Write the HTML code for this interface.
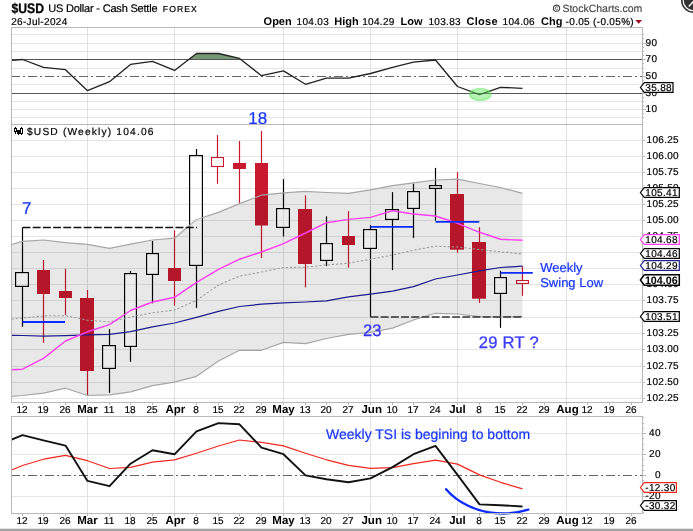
<!DOCTYPE html>
<html><head><meta charset="utf-8"><title>$USD</title>
<style>html,body{margin:0;padding:0;background:#fff;overflow:hidden}svg{display:block;will-change:transform;-webkit-font-smoothing:antialiased}text{font-family:"Liberation Sans",sans-serif;text-rendering:geometricPrecision}.s{stroke:#000;stroke-width:0.2px}.b{stroke:#1a38ff;stroke-width:0.22px}</style></head><body>
<svg width="693" height="531" viewBox="0 0 693 531">
<rect x="0" y="0" width="693" height="531" fill="#fff"/>
<g shape-rendering="crispEdges" stroke-width="1">
<line x1="11" x2="642" y1="117.5" y2="117.5" stroke="#e5e5e5"/>
<line x1="11" x2="642" y1="109.5" y2="109.5" stroke="#e5e5e5"/>
<line x1="11" x2="642" y1="101.5" y2="101.5" stroke="#e5e5e5"/>
<line x1="11" x2="642" y1="84.5" y2="84.5" stroke="#e5e5e5"/>
<line x1="11" x2="642" y1="68.5" y2="68.5" stroke="#e5e5e5"/>
<line x1="11" x2="642" y1="51.5" y2="51.5" stroke="#e5e5e5"/>
<line x1="11" x2="642" y1="43.5" y2="43.5" stroke="#e5e5e5"/>
<line x1="11" x2="642" y1="34.5" y2="34.5" stroke="#e5e5e5"/>
<line x1="11" x2="642" y1="398.5" y2="398.5" stroke="#e5e5e5"/>
<line x1="11" x2="642" y1="382.5" y2="382.5" stroke="#e5e5e5"/>
<line x1="11" x2="642" y1="366.5" y2="366.5" stroke="#e5e5e5"/>
<line x1="11" x2="642" y1="349.5" y2="349.5" stroke="#e5e5e5"/>
<line x1="11" x2="642" y1="333.5" y2="333.5" stroke="#e5e5e5"/>
<line x1="11" x2="642" y1="317.5" y2="317.5" stroke="#e5e5e5"/>
<line x1="11" x2="642" y1="300.5" y2="300.5" stroke="#e5e5e5"/>
<line x1="11" x2="642" y1="284.5" y2="284.5" stroke="#e5e5e5"/>
<line x1="11" x2="642" y1="268.5" y2="268.5" stroke="#e5e5e5"/>
<line x1="11" x2="642" y1="252.5" y2="252.5" stroke="#e5e5e5"/>
<line x1="11" x2="642" y1="236.5" y2="236.5" stroke="#e5e5e5"/>
<line x1="11" x2="642" y1="220.5" y2="220.5" stroke="#e5e5e5"/>
<line x1="11" x2="642" y1="204.5" y2="204.5" stroke="#e5e5e5"/>
<line x1="11" x2="642" y1="188.5" y2="188.5" stroke="#e5e5e5"/>
<line x1="11" x2="642" y1="172.5" y2="172.5" stroke="#e5e5e5"/>
<line x1="11" x2="642" y1="156.5" y2="156.5" stroke="#e5e5e5"/>
<line x1="11" x2="642" y1="140.5" y2="140.5" stroke="#e5e5e5"/>
<line x1="11" x2="642" y1="433.5" y2="433.5" stroke="#e5e5e5"/>
<line x1="11" x2="642" y1="454.5" y2="454.5" stroke="#e5e5e5"/>
<line x1="11" x2="642" y1="496.5" y2="496.5" stroke="#e5e5e5"/>
<line x1="87.5" x2="87.5" y1="27" y2="402" stroke="#e1e1e1"/>
<line x1="87.5" x2="87.5" y1="416" y2="513" stroke="#e1e1e1"/>
<line x1="174.5" x2="174.5" y1="27" y2="402" stroke="#e1e1e1"/>
<line x1="174.5" x2="174.5" y1="416" y2="513" stroke="#e1e1e1"/>
<line x1="283.5" x2="283.5" y1="27" y2="402" stroke="#e1e1e1"/>
<line x1="283.5" x2="283.5" y1="416" y2="513" stroke="#e1e1e1"/>
<line x1="370.5" x2="370.5" y1="27" y2="402" stroke="#e1e1e1"/>
<line x1="370.5" x2="370.5" y1="416" y2="513" stroke="#e1e1e1"/>
<line x1="457.5" x2="457.5" y1="27" y2="402" stroke="#e1e1e1"/>
<line x1="457.5" x2="457.5" y1="416" y2="513" stroke="#e1e1e1"/>
<line x1="566.5" x2="566.5" y1="27" y2="402" stroke="#e1e1e1"/>
<line x1="566.5" x2="566.5" y1="416" y2="513" stroke="#e1e1e1"/>
</g>
<clipPath id="c70"><rect x="11" y="27" width="631" height="32.5"/></clipPath>
<polygon points="11.5,60.3 22.5,59.5 43.5,67.4 65.5,69.7 87.5,90.7 109.5,81.7 130.5,64.4 152.5,61.4 174.5,70.4 196.5,53.5 218.5,53.5 239.5,58.4 261.5,75.7 283.5,70.9 305.5,84.3 326.5,78.2 348.5,78.2 370.5,73.5 392.5,67.4 413.5,62.2 435.5,60.0 457.5,86.5 479.5,94.7 500.5,87.3 522.5,88.3 522.5,59.5 11.5,59.5" fill="#759775" clip-path="url(#c70)"/>
<g shape-rendering="crispEdges">
<line x1="11" x2="642" y1="59.5" y2="59.5" stroke="#555" stroke-width="1"/>
<line x1="11" x2="642" y1="93.5" y2="93.5" stroke="#555" stroke-width="1"/>
<line x1="11" x2="642" y1="76.5" y2="76.5" stroke="#666" stroke-width="1" stroke-dasharray="9 3 2 3"/>
</g>
<polyline fill="none" stroke="#222" stroke-width="1.3" stroke-linejoin="round" points="11.5,60.3 22.5,59.5 43.5,67.4 65.5,69.7 87.5,90.7 109.5,81.7 130.5,64.4 152.5,61.4 174.5,70.4 196.5,53.5 218.5,53.5 239.5,58.4 261.5,75.7 283.5,70.9 305.5,84.3 326.5,78.2 348.5,78.2 370.5,73.5 392.5,67.4 413.5,62.2 435.5,60.0 457.5,86.5 479.5,94.7 500.5,87.3 522.5,88.3"/>
<ellipse cx="480.3" cy="94.4" rx="10.7" ry="6.0" fill="#5ae45a" fill-opacity="0.45" stroke="#5ae45a" stroke-opacity="0.5" stroke-width="1.4"/>
<g>
<line x1="22.5" x2="22.5" y1="227.5" y2="272.5" stroke="#000" stroke-width="1.2"/>
<line x1="22.5" x2="22.5" y1="286.5" y2="326.8" stroke="#000" stroke-width="1.2"/>
<rect x="15.6" y="272.6" width="12.8" height="13.8" fill="none" stroke="#000" stroke-width="1.2"/>
<line x1="43.5" x2="43.5" y1="260.0" y2="342.8" stroke="#c8192e" stroke-width="1.2"/>
<rect x="37" y="270" width="13" height="24.0" fill="#c8192e"/>
<line x1="65.5" x2="65.5" y1="268.8" y2="314.9" stroke="#c8192e" stroke-width="1.2"/>
<rect x="59" y="291" width="13" height="7.0" fill="#c8192e"/>
<line x1="87.5" x2="87.5" y1="289.9" y2="395.4" stroke="#c8192e" stroke-width="1.2"/>
<rect x="80" y="298" width="14" height="73.0" fill="#c8192e"/>
<line x1="109.5" x2="109.5" y1="329.0" y2="345.5" stroke="#000" stroke-width="1.2"/>
<line x1="109.5" x2="109.5" y1="368.5" y2="392.8" stroke="#000" stroke-width="1.2"/>
<rect x="102.6" y="345.6" width="12.8" height="22.8" fill="none" stroke="#000" stroke-width="1.2"/>
<line x1="130.5" x2="130.5" y1="270.9" y2="273.5" stroke="#000" stroke-width="1.2"/>
<line x1="130.5" x2="130.5" y1="346.5" y2="361.8" stroke="#000" stroke-width="1.2"/>
<rect x="124.6" y="273.6" width="11.8" height="72.8" fill="none" stroke="#000" stroke-width="1.2"/>
<line x1="152.5" x2="152.5" y1="241.0" y2="253.5" stroke="#000" stroke-width="1.2"/>
<line x1="152.5" x2="152.5" y1="274.5" y2="303.3" stroke="#000" stroke-width="1.2"/>
<rect x="146.6" y="253.6" width="11.8" height="20.8" fill="none" stroke="#000" stroke-width="1.2"/>
<line x1="174.5" x2="174.5" y1="230.3" y2="305.5" stroke="#c8192e" stroke-width="1.2"/>
<rect x="168" y="268" width="13" height="13.0" fill="#c8192e"/>
<line x1="196.5" x2="196.5" y1="149.0" y2="155.5" stroke="#000" stroke-width="1.2"/>
<line x1="196.5" x2="196.5" y1="265.5" y2="308.0" stroke="#000" stroke-width="1.2"/>
<rect x="189.6" y="155.6" width="12.8" height="109.8" fill="none" stroke="#000" stroke-width="1.2"/>
<line x1="217.5" x2="217.5" y1="135.1" y2="157.5" stroke="#c8192e" stroke-width="1.2"/>
<line x1="217.5" x2="217.5" y1="166.5" y2="183.8" stroke="#c8192e" stroke-width="1.2"/>
<rect x="211.6" y="157.6" width="11.8" height="8.8" fill="none" stroke="#c8192e" stroke-width="1.2"/>
<line x1="239.5" x2="239.5" y1="141.0" y2="202.9" stroke="#c8192e" stroke-width="1.2"/>
<rect x="233" y="163" width="13" height="6.0" fill="#c8192e"/>
<line x1="261.5" x2="261.5" y1="130.9" y2="258.0" stroke="#c8192e" stroke-width="1.2"/>
<rect x="255" y="163" width="13" height="62.5" fill="#c8192e"/>
<line x1="283.5" x2="283.5" y1="179.1" y2="208.5" stroke="#000" stroke-width="1.2"/>
<line x1="283.5" x2="283.5" y1="227.5" y2="236.5" stroke="#000" stroke-width="1.2"/>
<rect x="276.6" y="208.6" width="12.8" height="18.8" fill="none" stroke="#000" stroke-width="1.2"/>
<line x1="305.5" x2="305.5" y1="195.4" y2="287.4" stroke="#c8192e" stroke-width="1.2"/>
<rect x="298" y="209" width="14" height="55.0" fill="#c8192e"/>
<line x1="326.5" x2="326.5" y1="216.4" y2="243.5" stroke="#000" stroke-width="1.2"/>
<line x1="326.5" x2="326.5" y1="260.5" y2="265.9" stroke="#000" stroke-width="1.2"/>
<rect x="320.6" y="243.6" width="11.8" height="16.8" fill="none" stroke="#000" stroke-width="1.2"/>
<line x1="348.5" x2="348.5" y1="211.2" y2="267.7" stroke="#c8192e" stroke-width="1.2"/>
<rect x="342" y="236" width="13" height="9.0" fill="#c8192e"/>
<line x1="370.5" x2="370.5" y1="225.1" y2="229.5" stroke="#000" stroke-width="1.2"/>
<line x1="370.5" x2="370.5" y1="248.5" y2="317.0" stroke="#000" stroke-width="1.2"/>
<rect x="363.6" y="229.6" width="12.8" height="18.8" fill="none" stroke="#000" stroke-width="1.2"/>
<line x1="392.5" x2="392.5" y1="192.1" y2="209.5" stroke="#000" stroke-width="1.2"/>
<line x1="392.5" x2="392.5" y1="219.5" y2="270.1" stroke="#000" stroke-width="1.2"/>
<rect x="385.6" y="209.6" width="12.8" height="9.8" fill="none" stroke="#000" stroke-width="1.2"/>
<line x1="413.5" x2="413.5" y1="183.7" y2="191.5" stroke="#000" stroke-width="1.2"/>
<line x1="413.5" x2="413.5" y1="208.5" y2="238.0" stroke="#000" stroke-width="1.2"/>
<rect x="407.6" y="191.6" width="11.8" height="16.8" fill="none" stroke="#000" stroke-width="1.2"/>
<line x1="435.5" x2="435.5" y1="167.9" y2="185.5" stroke="#000" stroke-width="1.2"/>
<line x1="435.5" x2="435.5" y1="188.5" y2="220.6" stroke="#000" stroke-width="1.2"/>
<rect x="429.6" y="185.6" width="11.8" height="2.8" fill="none" stroke="#000" stroke-width="1.2"/>
<line x1="457.5" x2="457.5" y1="172.2" y2="252.8" stroke="#c8192e" stroke-width="1.2"/>
<rect x="450" y="194" width="14" height="55.7" fill="#c8192e"/>
<line x1="479.5" x2="479.5" y1="227.2" y2="302.8" stroke="#c8192e" stroke-width="1.2"/>
<rect x="472" y="242" width="14" height="56.7" fill="#c8192e"/>
<line x1="500.5" x2="500.5" y1="270.8" y2="277.5" stroke="#000" stroke-width="1.2"/>
<line x1="500.5" x2="500.5" y1="293.5" y2="327.8" stroke="#000" stroke-width="1.2"/>
<rect x="494.6" y="277.6" width="11.8" height="15.8" fill="none" stroke="#000" stroke-width="1.2"/>
<line x1="522.5" x2="522.5" y1="266.3" y2="280.5" stroke="#c8192e" stroke-width="1.2"/>
<line x1="522.5" x2="522.5" y1="283.5" y2="295.8" stroke="#c8192e" stroke-width="1.2"/>
<rect x="516.6" y="280.6" width="11.8" height="2.8" fill="none" stroke="#c8192e" stroke-width="1.2"/>
</g>
<polygon points="11.5,244.5 22.5,241.3 43.5,240.0 65.5,242.6 87.5,244.4 109.5,248.4 130.5,244.2 152.5,240.0 174.5,238.2 196.5,219.5 218.5,212.4 239.5,203.6 261.5,195.2 283.5,192.8 305.5,191.3 326.5,192.5 348.5,193.4 370.5,189.9 392.5,185.6 413.5,182.8 435.5,180.0 457.5,179.1 479.5,183.5 500.5,187.5 522.5,193.3 522.5,316.4 500.5,317.0 479.5,316.7 457.5,314.0 435.5,313.3 413.5,320.0 392.5,328.1 370.5,332.3 348.5,334.3 326.5,338.5 305.5,343.6 283.5,342.4 261.5,350.3 239.5,350.3 218.5,361.0 196.5,376.3 174.5,382.2 152.5,385.6 130.5,391.8 109.5,394.8 87.5,395.5 65.5,388.2 43.5,393.2 22.5,395.5 11.5,396.3" fill="#000" fill-opacity="0.09"/>
<polyline fill="none" stroke="#a6a6a6" stroke-width="1.2" stroke-linejoin="round" points="11.5,244.5 22.5,241.3 43.5,240.0 65.5,242.6 87.5,244.4 109.5,248.4 130.5,244.2 152.5,240.0 174.5,238.2 196.5,219.5 218.5,212.4 239.5,203.6 261.5,195.2 283.5,192.8 305.5,191.3 326.5,192.5 348.5,193.4 370.5,189.9 392.5,185.6 413.5,182.8 435.5,180.0 457.5,179.1 479.5,183.5 500.5,187.5 522.5,193.3"/>
<polyline fill="none" stroke="#a6a6a6" stroke-width="1.2" stroke-linejoin="round" points="11.5,396.3 22.5,395.5 43.5,393.2 65.5,388.2 87.5,395.5 109.5,394.8 130.5,391.8 152.5,385.6 174.5,382.2 196.5,376.3 218.5,361.0 239.5,350.3 261.5,350.3 283.5,342.4 305.5,343.6 326.5,338.5 348.5,334.3 370.5,332.3 392.5,328.1 413.5,320.0 435.5,313.3 457.5,314.0 479.5,316.7 500.5,317.0 522.5,316.4"/>
<rect x="16.2" y="273.2" width="11.6" height="12.6" fill="#fff" fill-opacity="0.2"/>
<rect x="103.2" y="346.2" width="11.6" height="21.6" fill="#fff" fill-opacity="0.2"/>
<rect x="125.2" y="274.2" width="10.6" height="71.6" fill="#fff" fill-opacity="0.2"/>
<rect x="147.2" y="254.2" width="10.6" height="19.6" fill="#fff" fill-opacity="0.2"/>
<rect x="190.2" y="156.2" width="11.6" height="108.6" fill="#fff" fill-opacity="0.2"/>
<rect x="212.2" y="158.2" width="10.6" height="7.6" fill="#fff" fill-opacity="0.8"/>
<rect x="277.2" y="209.2" width="11.6" height="17.6" fill="#fff" fill-opacity="0.2"/>
<rect x="321.2" y="244.2" width="10.6" height="15.6" fill="#fff" fill-opacity="0.2"/>
<rect x="364.2" y="230.2" width="11.6" height="17.6" fill="#fff" fill-opacity="0.2"/>
<rect x="386.2" y="210.2" width="11.6" height="8.6" fill="#fff" fill-opacity="0.2"/>
<rect x="408.2" y="192.2" width="10.6" height="15.6" fill="#fff" fill-opacity="0.2"/>
<rect x="430.2" y="186.2" width="10.6" height="1.6" fill="#fff" fill-opacity="0.2"/>
<rect x="495.2" y="278.2" width="10.6" height="14.6" fill="#fff" fill-opacity="0.2"/>
<rect x="517.2" y="281.2" width="10.6" height="1.6" fill="#fff" fill-opacity="0.8"/>
<polyline fill="none" stroke-linejoin="round" stroke="#999" stroke-width="1.05" stroke-dasharray="2.2 2" points="11.5,319.2 22.5,318.0 43.5,315.9 65.5,315.6 87.5,320.2 109.5,321.9 130.5,316.9 152.5,312.8 174.5,310.0 196.5,300.4 218.5,285.0 239.5,276.1 261.5,272.0 283.5,267.5 305.5,267.2 326.5,265.0 348.5,263.2 370.5,259.3 392.5,255.0 413.5,250.2 435.5,246.2 457.5,247.0 479.5,249.6 500.5,251.8 522.5,254.0"/>
<polyline fill="none" stroke-linejoin="round" stroke="#1c1c8c" stroke-width="1.25" points="11.5,335.4 22.5,335.5 43.5,336.2 65.5,335.6 87.5,334.8 109.5,334.3 130.5,331.6 152.5,326.8 174.5,323.0 196.5,317.3 218.5,311.3 239.5,306.5 261.5,304.2 283.5,302.8 305.5,302.0 326.5,300.9 348.5,296.9 370.5,294.2 392.5,291.2 413.5,286.6 435.5,279.0 457.5,275.0 479.5,270.8 500.5,267.5 522.5,266.2"/>
<polyline fill="none" stroke-linejoin="round" stroke="#ff40f0" stroke-width="1.45" points="11.5,369.8 22.5,369.2 43.5,358.4 65.5,341.0 87.5,331.8 109.5,324.6 130.5,310.5 152.5,302.0 174.5,297.3 196.5,282.4 218.5,269.4 239.5,259.2 261.5,252.0 283.5,243.6 305.5,233.0 326.5,222.7 348.5,219.4 370.5,217.4 392.5,210.7 413.5,214.0 435.5,216.0 457.5,223.3 479.5,232.3 500.5,239.3 522.5,240.3"/>
<line x1="22.5" x2="197" y1="227.5" y2="227.5" stroke="#111" stroke-width="1.6" stroke-dasharray="7.9 2.3"/>
<line x1="370.5" x2="522.5" y1="317.0" y2="317.0" stroke="#333" stroke-width="1.4" stroke-dasharray="7.9 2.3"/>
<line x1="22.5" x2="65" y1="322" y2="322" stroke="#0c2cff" stroke-width="2"/>
<line x1="370.5" x2="413.3" y1="226.9" y2="226.9" stroke="#0c2cff" stroke-width="1.9"/>
<line x1="435.5" x2="479.3" y1="221.9" y2="221.9" stroke="#0c2cff" stroke-width="1.9"/>
<line x1="500.5" x2="532.8" y1="272.9" y2="272.9" stroke="#0c2cff" stroke-width="1.9"/>
<text class="b" x="21.9" y="214" font-size="17" fill="#1a38ff">7</text>
<text class="b" x="248.3" y="124" font-size="17" fill="#1a38ff">18</text>
<text x="363.0" y="335.8" font-size="16.6" fill="#3434f4" stroke="#3434f4" stroke-width="0.3">23</text>
<text x="478.8" y="347.6" font-size="16.6" letter-spacing="0.25" fill="#3a3aff" stroke="#3a3aff" stroke-width="0.3">29 RT ?</text>
<text class="b" x="540.2" y="272" font-size="13" fill="#1a38ff">Weekly</text>
<text class="b" x="540.2" y="287" font-size="13" fill="#1a38ff">Swing Low</text>
<line x1="11" x2="642" y1="475.5" y2="475.5" stroke="#666" stroke-width="1" stroke-dasharray="9 3 2 3" shape-rendering="crispEdges"/>
<polyline fill="none" stroke-linejoin="round" stroke="#f0281e" stroke-width="1.2" points="11.5,470.0 22.5,465.5 43.5,459.2 65.5,455.4 87.5,460.7 109.5,468.5 130.5,467.4 152.5,462.2 174.5,459.9 196.5,453.2 218.5,446.0 239.5,440.0 261.5,442.4 283.5,445.9 305.5,453.3 326.5,459.8 348.5,465.4 370.5,468.4 392.5,467.6 413.5,463.7 435.5,460.2 457.5,464.1 479.5,474.9 500.5,482.3 522.5,488.8"/>
<polyline fill="none" stroke-linejoin="round" stroke="#111" stroke-width="1.9" points="11.5,439.6 22.5,435.1 43.5,440.4 65.5,445.6 87.5,480.9 109.5,486.2 130.5,463.7 152.5,450.2 174.5,454.3 196.5,431.4 218.5,423.1 239.5,424.3 261.5,447.6 283.5,454.2 305.5,475.4 326.5,479.3 348.5,482.3 370.5,478.4 392.5,467.1 413.5,454.2 435.5,445.9 457.5,474.9 479.5,504.4 500.5,505.2 522.5,506.5"/>
<path d="M446.1,489.2 C456,501 476,513.5 503.2,513.5 C512,513.5 521,511.8 528.4,509.6" fill="none" stroke="#0c2cff" stroke-width="2.3" stroke-linecap="round"/>
<text class="b" x="326" y="439.4" font-size="14" fill="#1a38ff">Weekly TSI is begining to bottom</text>
<g shape-rendering="crispEdges" fill="none" stroke="#b8b8b8" stroke-width="1">
<rect x="11.5" y="27.5" width="631" height="375"/>
<line x1="11" x2="642" y1="124.5" y2="124.5"/>
<rect x="11.5" y="416.5" width="631" height="97"/>
<line x1="643" x2="644" y1="117.5" y2="117.5"/>
<line x1="643" x2="644" y1="113.5" y2="113.5"/>
<line x1="643" x2="646" y1="109.5" y2="109.5"/>
<line x1="643" x2="644" y1="105.5" y2="105.5"/>
<line x1="643" x2="644" y1="101.5" y2="101.5"/>
<line x1="643" x2="644" y1="97.5" y2="97.5"/>
<line x1="643" x2="646" y1="93.5" y2="93.5"/>
<line x1="643" x2="644" y1="88.5" y2="88.5"/>
<line x1="643" x2="644" y1="84.5" y2="84.5"/>
<line x1="643" x2="644" y1="80.5" y2="80.5"/>
<line x1="643" x2="646" y1="76.5" y2="76.5"/>
<line x1="643" x2="644" y1="72.5" y2="72.5"/>
<line x1="643" x2="644" y1="68.5" y2="68.5"/>
<line x1="643" x2="644" y1="63.5" y2="63.5"/>
<line x1="643" x2="646" y1="59.5" y2="59.5"/>
<line x1="643" x2="644" y1="55.5" y2="55.5"/>
<line x1="643" x2="644" y1="51.5" y2="51.5"/>
<line x1="643" x2="644" y1="47.5" y2="47.5"/>
<line x1="643" x2="646" y1="43.5" y2="43.5"/>
<line x1="643" x2="644" y1="38.5" y2="38.5"/>
<line x1="643" x2="644" y1="34.5" y2="34.5"/>
<line x1="643" x2="645" y1="398.5" y2="398.5"/>
<line x1="643" x2="645" y1="382.5" y2="382.5"/>
<line x1="643" x2="645" y1="366.5" y2="366.5"/>
<line x1="643" x2="645" y1="349.5" y2="349.5"/>
<line x1="643" x2="645" y1="333.5" y2="333.5"/>
<line x1="643" x2="645" y1="317.5" y2="317.5"/>
<line x1="643" x2="645" y1="300.5" y2="300.5"/>
<line x1="643" x2="645" y1="284.5" y2="284.5"/>
<line x1="643" x2="645" y1="268.5" y2="268.5"/>
<line x1="643" x2="645" y1="252.5" y2="252.5"/>
<line x1="643" x2="645" y1="236.5" y2="236.5"/>
<line x1="643" x2="645" y1="220.5" y2="220.5"/>
<line x1="643" x2="645" y1="204.5" y2="204.5"/>
<line x1="643" x2="645" y1="188.5" y2="188.5"/>
<line x1="643" x2="645" y1="172.5" y2="172.5"/>
<line x1="643" x2="645" y1="156.5" y2="156.5"/>
<line x1="643" x2="645" y1="140.5" y2="140.5"/>
<line x1="643" x2="644" y1="512.5" y2="512.5"/>
<line x1="643" x2="644" y1="507.5" y2="507.5"/>
<line x1="643" x2="644" y1="501.5" y2="501.5"/>
<line x1="643" x2="646" y1="496.5" y2="496.5"/>
<line x1="643" x2="644" y1="491.5" y2="491.5"/>
<line x1="643" x2="644" y1="486.5" y2="486.5"/>
<line x1="643" x2="644" y1="480.5" y2="480.5"/>
<line x1="643" x2="646" y1="475.5" y2="475.5"/>
<line x1="643" x2="644" y1="470.5" y2="470.5"/>
<line x1="643" x2="644" y1="465.5" y2="465.5"/>
<line x1="643" x2="644" y1="459.5" y2="459.5"/>
<line x1="643" x2="646" y1="454.5" y2="454.5"/>
<line x1="643" x2="644" y1="449.5" y2="449.5"/>
<line x1="643" x2="644" y1="444.5" y2="444.5"/>
<line x1="643" x2="644" y1="438.5" y2="438.5"/>
<line x1="643" x2="646" y1="433.5" y2="433.5"/>
<line x1="643" x2="644" y1="428.5" y2="428.5"/>
<line x1="643" x2="644" y1="423.5" y2="423.5"/>
<line x1="643" x2="644" y1="417.5" y2="417.5"/>
<line x1="22.5" x2="22.5" y1="403" y2="405"/>
<line x1="22.5" x2="22.5" y1="514" y2="516"/>
<line x1="43.5" x2="43.5" y1="403" y2="405"/>
<line x1="43.5" x2="43.5" y1="514" y2="516"/>
<line x1="65.5" x2="65.5" y1="403" y2="405"/>
<line x1="65.5" x2="65.5" y1="514" y2="516"/>
<line x1="87.5" x2="87.5" y1="403" y2="405"/>
<line x1="87.5" x2="87.5" y1="514" y2="516"/>
<line x1="109.5" x2="109.5" y1="403" y2="405"/>
<line x1="109.5" x2="109.5" y1="514" y2="516"/>
<line x1="130.5" x2="130.5" y1="403" y2="405"/>
<line x1="130.5" x2="130.5" y1="514" y2="516"/>
<line x1="152.5" x2="152.5" y1="403" y2="405"/>
<line x1="152.5" x2="152.5" y1="514" y2="516"/>
<line x1="174.5" x2="174.5" y1="403" y2="405"/>
<line x1="174.5" x2="174.5" y1="514" y2="516"/>
<line x1="196.5" x2="196.5" y1="403" y2="405"/>
<line x1="196.5" x2="196.5" y1="514" y2="516"/>
<line x1="218.5" x2="218.5" y1="403" y2="405"/>
<line x1="218.5" x2="218.5" y1="514" y2="516"/>
<line x1="239.5" x2="239.5" y1="403" y2="405"/>
<line x1="239.5" x2="239.5" y1="514" y2="516"/>
<line x1="261.5" x2="261.5" y1="403" y2="405"/>
<line x1="261.5" x2="261.5" y1="514" y2="516"/>
<line x1="283.5" x2="283.5" y1="403" y2="405"/>
<line x1="283.5" x2="283.5" y1="514" y2="516"/>
<line x1="305.5" x2="305.5" y1="403" y2="405"/>
<line x1="305.5" x2="305.5" y1="514" y2="516"/>
<line x1="326.5" x2="326.5" y1="403" y2="405"/>
<line x1="326.5" x2="326.5" y1="514" y2="516"/>
<line x1="348.5" x2="348.5" y1="403" y2="405"/>
<line x1="348.5" x2="348.5" y1="514" y2="516"/>
<line x1="370.5" x2="370.5" y1="403" y2="405"/>
<line x1="370.5" x2="370.5" y1="514" y2="516"/>
<line x1="392.5" x2="392.5" y1="403" y2="405"/>
<line x1="392.5" x2="392.5" y1="514" y2="516"/>
<line x1="413.5" x2="413.5" y1="403" y2="405"/>
<line x1="413.5" x2="413.5" y1="514" y2="516"/>
<line x1="435.5" x2="435.5" y1="403" y2="405"/>
<line x1="435.5" x2="435.5" y1="514" y2="516"/>
<line x1="457.5" x2="457.5" y1="403" y2="405"/>
<line x1="457.5" x2="457.5" y1="514" y2="516"/>
<line x1="479.5" x2="479.5" y1="403" y2="405"/>
<line x1="479.5" x2="479.5" y1="514" y2="516"/>
<line x1="500.5" x2="500.5" y1="403" y2="405"/>
<line x1="500.5" x2="500.5" y1="514" y2="516"/>
<line x1="522.5" x2="522.5" y1="403" y2="405"/>
<line x1="522.5" x2="522.5" y1="514" y2="516"/>
<line x1="544.5" x2="544.5" y1="403" y2="405"/>
<line x1="544.5" x2="544.5" y1="514" y2="516"/>
<line x1="566.5" x2="566.5" y1="403" y2="405"/>
<line x1="566.5" x2="566.5" y1="514" y2="516"/>
<line x1="587.5" x2="587.5" y1="403" y2="405"/>
<line x1="587.5" x2="587.5" y1="514" y2="516"/>
<line x1="609.5" x2="609.5" y1="403" y2="405"/>
<line x1="609.5" x2="609.5" y1="514" y2="516"/>
<line x1="631.5" x2="631.5" y1="403" y2="405"/>
<line x1="631.5" x2="631.5" y1="514" y2="516"/>
</g>
<g class="s" font-size="10" fill="#000" letter-spacing="0.32">
<text x="645.6" y="46">90</text>
<text x="645.6" y="62">70</text>
<text x="645.6" y="79">50</text>
<text x="645.6" y="96">30</text>
<text x="645.6" y="112">10</text>
<text x="646.5" y="401">102.25</text>
<text x="646.5" y="385">102.50</text>
<text x="646.5" y="369">102.75</text>
<text x="646.5" y="352">103.00</text>
<text x="646.5" y="336">103.25</text>
<text x="646.5" y="303">103.75</text>
<text x="646.5" y="287">104.00</text>
<text x="646.5" y="239">104.75</text>
<text x="646.5" y="223">105.00</text>
<text x="646.5" y="207">105.25</text>
<text x="646.5" y="191">105.50</text>
<text x="646.5" y="175">105.75</text>
<text x="646.5" y="159">106.00</text>
<text x="646.5" y="143">106.25</text>
<text x="660.8" y="436" text-anchor="end">40</text>
<text x="660.8" y="457" text-anchor="end">20</text>
<text x="660.8" y="478" text-anchor="end">0</text>
<text x="660.8" y="499" text-anchor="end">-20</text>
</g>
<path d="M640.4,87.5 L644.3,82.6 L673.0,82.6 L673.0,92.4 L644.3,92.4 Z" fill="#fff" stroke="#000" stroke-width="1.2" stroke-linejoin="miter"/>
<text class="s" x="645.3" y="91.0" font-size="10" letter-spacing="0.32">35.88</text>
<path d="M640.4,192.5 L644.3,187.6 L679.3,187.6 L679.3,197.4 L644.3,197.4 Z" fill="#fff" stroke="#000" stroke-width="1.2" stroke-linejoin="miter"/>
<text class="s" x="645.3" y="196.0" font-size="10" letter-spacing="0.32">105.41</text>
<path d="M640.4,239.5 L644.3,234.6 L679.3,234.6 L679.3,244.4 L644.3,244.4 Z" fill="#fff" stroke="#ff40f0" stroke-width="1.2" stroke-linejoin="miter"/>
<text class="s" x="645.3" y="243.0" font-size="10" letter-spacing="0.32">104.68</text>
<path d="M640.4,253.5 L644.3,248.6 L679.3,248.6 L679.3,258.4 L644.3,258.4 Z" fill="#fff" stroke="#000" stroke-width="1.2" stroke-linejoin="miter"/>
<text class="s" x="645.3" y="257.0" font-size="10" letter-spacing="0.32">104.46</text>
<path d="M640.4,265.5 L644.3,260.6 L679.3,260.6 L679.3,270.4 L644.3,270.4 Z" fill="#fff" stroke="#20208c" stroke-width="1.2" stroke-linejoin="miter"/>
<text class="s" x="645.3" y="269.0" font-size="10" letter-spacing="0.32">104.29</text>
<path d="M640.4,280.0 L644.3,274.8 L679.3,274.8 L679.3,285.2 L644.3,285.2 Z" fill="#fff" stroke="#000" stroke-width="1.5" stroke-linejoin="miter"/>
<text x="644.9" y="284.0" font-size="10.8" font-weight="bold" textLength="32.8" lengthAdjust="spacingAndGlyphs">104.06</text>
<path d="M640.4,316.5 L644.3,311.6 L679.3,311.6 L679.3,321.4 L644.3,321.4 Z" fill="#fff" stroke="#000" stroke-width="1.2" stroke-linejoin="miter"/>
<text class="s" x="645.3" y="320.0" font-size="10" letter-spacing="0.32">103.51</text>
<path d="M640.4,487.5 L644.3,482.6 L676.4,482.6 L676.4,492.4 L644.3,492.4 Z" fill="#fff" stroke="#f0281e" stroke-width="1.2" stroke-linejoin="miter"/>
<text class="s" x="645.3" y="491.0" font-size="10" letter-spacing="0.32">-12.30</text>
<path d="M640.4,505.5 L644.3,500.6 L676.4,500.6 L676.4,510.4 L644.3,510.4 Z" fill="#fff" stroke="#000" stroke-width="1.2" stroke-linejoin="miter"/>
<text class="s" x="645.3" y="509.0" font-size="10" letter-spacing="0.32">-30.32</text>
<text class="s" x="22.1" y="413" font-size="10" text-anchor="middle" letter-spacing="0.1">12</text>
<text class="s" x="43.1" y="413" font-size="10" text-anchor="middle" letter-spacing="0.1">19</text>
<text class="s" x="65.1" y="413" font-size="10" text-anchor="middle" letter-spacing="0.1">26</text>
<text x="87.5" y="413" font-size="11.5" font-weight="bold" text-anchor="middle">Mar</text>
<text class="s" x="109.1" y="413" font-size="10" text-anchor="middle" letter-spacing="0.1">11</text>
<text class="s" x="130.1" y="413" font-size="10" text-anchor="middle" letter-spacing="0.1">18</text>
<text class="s" x="152.1" y="413" font-size="10" text-anchor="middle" letter-spacing="0.1">25</text>
<text x="175.3" y="413" font-size="11.5" font-weight="bold" text-anchor="middle">Apr</text>
<text class="s" x="196.1" y="413" font-size="10" text-anchor="middle" letter-spacing="0.1">8</text>
<text class="s" x="218.1" y="413" font-size="10" text-anchor="middle" letter-spacing="0.1">15</text>
<text class="s" x="239.1" y="413" font-size="10" text-anchor="middle" letter-spacing="0.1">22</text>
<text class="s" x="261.1" y="413" font-size="10" text-anchor="middle" letter-spacing="0.1">29</text>
<text x="283.5" y="413" font-size="11.5" font-weight="bold" text-anchor="middle">May</text>
<text class="s" x="305.1" y="413" font-size="10" text-anchor="middle" letter-spacing="0.1">13</text>
<text class="s" x="326.1" y="413" font-size="10" text-anchor="middle" letter-spacing="0.1">20</text>
<text class="s" x="348.1" y="413" font-size="10" text-anchor="middle" letter-spacing="0.1">27</text>
<text x="371.7" y="413" font-size="11.5" font-weight="bold" text-anchor="middle">Jun</text>
<text class="s" x="392.1" y="413" font-size="10" text-anchor="middle" letter-spacing="0.1">10</text>
<text class="s" x="413.1" y="413" font-size="10" text-anchor="middle" letter-spacing="0.1">17</text>
<text class="s" x="435.1" y="413" font-size="10" text-anchor="middle" letter-spacing="0.1">24</text>
<text x="457.5" y="413" font-size="11.5" font-weight="bold" text-anchor="middle">Jul</text>
<text class="s" x="479.1" y="413" font-size="10" text-anchor="middle" letter-spacing="0.1">8</text>
<text class="s" x="500.1" y="413" font-size="10" text-anchor="middle" letter-spacing="0.1">15</text>
<text class="s" x="522.1" y="413" font-size="10" text-anchor="middle" letter-spacing="0.1">22</text>
<text class="s" x="544.1" y="413" font-size="10" text-anchor="middle" letter-spacing="0.1">29</text>
<text x="567.5" y="413" font-size="11.5" font-weight="bold" text-anchor="middle">Aug</text>
<text class="s" x="587.1" y="413" font-size="10" text-anchor="middle" letter-spacing="0.1">12</text>
<text class="s" x="609.1" y="413" font-size="10" text-anchor="middle" letter-spacing="0.1">19</text>
<text class="s" x="631.1" y="413" font-size="10" text-anchor="middle" letter-spacing="0.1">26</text>
<text class="s" x="22.1" y="524" font-size="10" text-anchor="middle" letter-spacing="0.1">12</text>
<text class="s" x="43.1" y="524" font-size="10" text-anchor="middle" letter-spacing="0.1">19</text>
<text class="s" x="65.1" y="524" font-size="10" text-anchor="middle" letter-spacing="0.1">26</text>
<text x="87.5" y="524" font-size="11.5" font-weight="bold" text-anchor="middle">Mar</text>
<text class="s" x="109.1" y="524" font-size="10" text-anchor="middle" letter-spacing="0.1">11</text>
<text class="s" x="130.1" y="524" font-size="10" text-anchor="middle" letter-spacing="0.1">18</text>
<text class="s" x="152.1" y="524" font-size="10" text-anchor="middle" letter-spacing="0.1">25</text>
<text x="175.3" y="524" font-size="11.5" font-weight="bold" text-anchor="middle">Apr</text>
<text class="s" x="196.1" y="524" font-size="10" text-anchor="middle" letter-spacing="0.1">8</text>
<text class="s" x="218.1" y="524" font-size="10" text-anchor="middle" letter-spacing="0.1">15</text>
<text class="s" x="239.1" y="524" font-size="10" text-anchor="middle" letter-spacing="0.1">22</text>
<text class="s" x="261.1" y="524" font-size="10" text-anchor="middle" letter-spacing="0.1">29</text>
<text x="283.5" y="524" font-size="11.5" font-weight="bold" text-anchor="middle">May</text>
<text class="s" x="305.1" y="524" font-size="10" text-anchor="middle" letter-spacing="0.1">13</text>
<text class="s" x="326.1" y="524" font-size="10" text-anchor="middle" letter-spacing="0.1">20</text>
<text class="s" x="348.1" y="524" font-size="10" text-anchor="middle" letter-spacing="0.1">27</text>
<text x="371.7" y="524" font-size="11.5" font-weight="bold" text-anchor="middle">Jun</text>
<text class="s" x="392.1" y="524" font-size="10" text-anchor="middle" letter-spacing="0.1">10</text>
<text class="s" x="413.1" y="524" font-size="10" text-anchor="middle" letter-spacing="0.1">17</text>
<text class="s" x="435.1" y="524" font-size="10" text-anchor="middle" letter-spacing="0.1">24</text>
<text x="457.5" y="524" font-size="11.5" font-weight="bold" text-anchor="middle">Jul</text>
<text class="s" x="479.1" y="524" font-size="10" text-anchor="middle" letter-spacing="0.1">8</text>
<text class="s" x="500.1" y="524" font-size="10" text-anchor="middle" letter-spacing="0.1">15</text>
<text class="s" x="522.1" y="524" font-size="10" text-anchor="middle" letter-spacing="0.1">22</text>
<text class="s" x="544.1" y="524" font-size="10" text-anchor="middle" letter-spacing="0.1">29</text>
<text x="567.5" y="524" font-size="11.5" font-weight="bold" text-anchor="middle">Aug</text>
<text class="s" x="587.1" y="524" font-size="10" text-anchor="middle" letter-spacing="0.1">12</text>
<text class="s" x="609.1" y="524" font-size="10" text-anchor="middle" letter-spacing="0.1">19</text>
<text class="s" x="631.1" y="524" font-size="10" text-anchor="middle" letter-spacing="0.1">26</text>
<text x="11.4" y="12.5" font-size="13.8" font-weight="bold" textLength="32.6" lengthAdjust="spacingAndGlyphs" stroke="#000" stroke-width="0.25">$USD</text>
<text class="s" x="48.2" y="12.3" font-size="11" fill="#000" textLength="109.4" lengthAdjust="spacing">US Dollar - Cash Settle</text>
<text class="s" x="162.8" y="12.3" font-size="8.6" letter-spacing="1.1" fill="#000">FOREX</text>
<text class="s" x="11.2" y="25" font-size="10" letter-spacing="0.32">26-Jul-2024</text>
<text x="263.6" y="24.8" font-size="11" font-weight="bold">Open</text>
<text class="s" x="296.6" y="25" font-size="10" letter-spacing="0.32">104.03</text>
<text x="334.2" y="24.8" font-size="11" font-weight="bold">High</text>
<text class="s" x="362.2" y="25" font-size="10" letter-spacing="0.32">104.29</text>
<text x="400.6" y="24.8" font-size="11" font-weight="bold">Low</text>
<text class="s" x="428.4" y="25" font-size="10" letter-spacing="0.32">103.83</text>
<text x="466.4" y="24.8" font-size="11" font-weight="bold" letter-spacing="0.3">Close</text>
<text class="s" x="502.5" y="25" font-size="10" letter-spacing="0.32">104.06</text>
<text x="541.0" y="24.8" font-size="11" font-weight="bold">Chg</text>
<text class="s" x="565.6" y="25" font-size="10" letter-spacing="0.32">-0.05 (-0.05%)</text>
<path d="M635.3,20 L642.1,20 L638.7,23.8 Z" fill="#a01020"/>
<circle cx="556.5" cy="8.2" r="3.1" fill="none" stroke="#444" stroke-width="1.1"/>
<path d="M557.7,7.3 A1.4,1.4 0 1 0 557.7,9.1" fill="none" stroke="#444" stroke-width="0.9"/>
<text x="562.4" y="11.8" font-size="10.5" fill="#484848" stroke="#484848" stroke-width="0.15">StockCharts.com</text>
<circle cx="693.6" cy="0.4" r="12.6" fill="#333"/>
<circle cx="693.6" cy="0.4" r="10.4" fill="none" stroke="#fff" stroke-width="1.1"/>
<line x1="688.8" y1="6.6" x2="693.5" y2="1.4" stroke="#fff" stroke-width="1.5"/>
<g shape-rendering="crispEdges" fill="#000">
<rect x="14" y="128" width="3" height="4"/><rect x="15" y="129" width="1" height="2" fill="#fff"/>
<rect x="15" y="127" width="1" height="1"/><rect x="15" y="132" width="1" height="2"/>
<rect x="17" y="130" width="3" height="4"/><rect x="18" y="134" width="1" height="1"/>
<rect x="20" y="128" width="3" height="6"/><rect x="21" y="129" width="1" height="4" fill="#fff"/>
<rect x="21" y="127" width="1" height="1"/><rect x="21" y="134" width="1" height="1"/>
</g>
<text class="s" x="27" y="135" font-size="10.2" letter-spacing="1.18">$USD (Weekly) 104.06</text>
<rect x="0" y="528.7" width="693" height="3" fill="#a2a2a2"/>
</svg></body></html>
